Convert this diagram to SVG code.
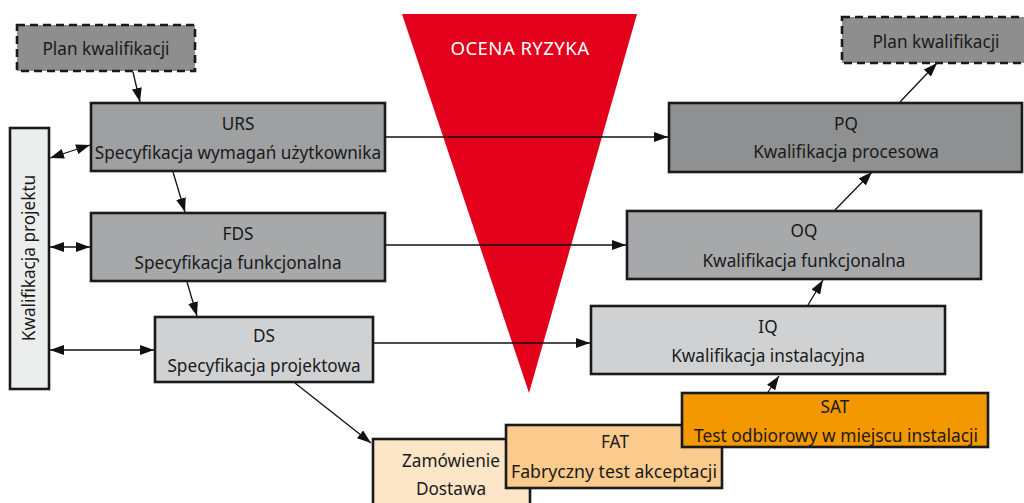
<svg xmlns="http://www.w3.org/2000/svg" width="1024" height="503" viewBox="0 0 1024 503">
<style>
.box{stroke:#1a1a1a;stroke-width:2.6}
.dash{stroke:#1a1a1a;stroke-width:2.6;stroke-dasharray:8 5}
.t{font-family:"Noto Sans","Open Sans",sans-serif;font-size:17.2px;fill:#1a1a1a;text-anchor:middle}
.c{stroke:#111;stroke-width:1.3;fill:none}
</style>
<defs>
<marker id="ah" viewBox="0 0 14 10" refX="14" refY="5" markerWidth="14" markerHeight="10" markerUnits="userSpaceOnUse" orient="auto-start-reverse">
<path d="M0,0 L14,5 L0,10 Z" fill="#111"/>
</marker>
</defs>
<rect width="1024" height="503" fill="#fff"/>
<g id="risk">
<polygon points="402,14 637,14 529,393" fill="#e2001a"/>
<text x="520" y="55" class="t" style="fill:#fff;font-size:18.6px;letter-spacing:0.4px">OCENA RYZYKA</text>
</g>
<g id="connectors">
<line class="c" x1="133" y1="72" x2="140" y2="102" marker-end="url(#ah)"/>
<line class="c" x1="50" y1="158" x2="90" y2="145" marker-start="url(#ah)" marker-end="url(#ah)"/>
<line class="c" x1="50" y1="247" x2="90" y2="247" marker-start="url(#ah)" marker-end="url(#ah)"/>
<line class="c" x1="50" y1="350" x2="154" y2="350" marker-start="url(#ah)" marker-end="url(#ah)"/>
<line class="c" x1="173" y1="172" x2="185" y2="212" marker-end="url(#ah)"/>
<line class="c" x1="187" y1="282" x2="197" y2="316" marker-end="url(#ah)"/>
<line class="c" x1="385" y1="137" x2="668" y2="137" marker-end="url(#ah)"/>
<line class="c" x1="385" y1="245" x2="626" y2="245" marker-end="url(#ah)"/>
<line class="c" x1="373" y1="343" x2="590" y2="343" marker-end="url(#ah)"/>
<line class="c" x1="295" y1="383" x2="371" y2="443" marker-end="url(#ah)"/>
<line class="c" x1="768" y1="392" x2="779" y2="376" marker-end="url(#ah)"/>
<line class="c" x1="808" y1="305" x2="823" y2="280" marker-end="url(#ah)"/>
<line class="c" x1="835" y1="210" x2="872" y2="172" marker-end="url(#ah)"/>
<line class="c" x1="900" y1="102" x2="937" y2="63" marker-end="url(#ah)"/>
</g>
<g id="plan-left">
<rect x="17" y="25" width="178" height="46" fill="#8e8e8f" class="dash"/>
<text x="106" y="55" class="t">Plan kwalifikacji</text>
</g>
<g id="plan-right">
<rect x="842" y="17" width="190" height="46" fill="#8e8e8f" class="dash"/>
<text x="936" y="48" class="t">Plan kwalifikacji</text>
</g>
<g id="kp">
<rect x="10" y="128" width="39" height="261" fill="#eceded" class="box"/>
<text x="0" y="0" class="t" transform="translate(35,258) rotate(-90)">Kwalifikacja projektu</text>
</g>
<g id="urs">
<rect x="91" y="103" width="294" height="68" fill="#9fa0a2" class="box"/>
<text x="238" y="130" class="t">URS</text>
<text x="238" y="159" class="t">Specyfikacja wymagań użytkownika</text>
</g>
<g id="fds">
<rect x="91" y="213" width="294" height="68" fill="#a7a8aa" class="box"/>
<text x="238" y="240" class="t">FDS</text>
<text x="238" y="269" class="t">Specyfikacja funkcjonalna</text>
</g>
<g id="ds">
<rect x="155" y="317" width="218" height="65" fill="#d0d1d3" class="box"/>
<text x="264" y="342" class="t">DS</text>
<text x="264" y="372" class="t">Specyfikacja projektowa</text>
</g>
<g id="pq">
<rect x="669" y="103" width="353" height="69" fill="#8f9091" class="box"/>
<text x="846" y="130" class="t">PQ</text>
<text x="846" y="158" class="t">Kwalifikacja procesowa</text>
</g>
<g id="oq">
<rect x="627" y="211" width="354" height="68" fill="#a7a8aa" class="box"/>
<text x="804" y="237" class="t">OQ</text>
<text x="804" y="267" class="t">Kwalifikacja funkcjonalna</text>
</g>
<g id="iq">
<rect x="591" y="306" width="354" height="68" fill="#d0d1d3" class="box"/>
<text x="768" y="333" class="t">IQ</text>
<text x="768" y="362" class="t">Kwalifikacja instalacyjna</text>
</g>
<g id="zam">
<rect x="373" y="439" width="157" height="80" fill="#fde5c7" class="box"/>
<text x="451" y="467" class="t">Zamówienie</text>
<text x="451" y="495" class="t">Dostawa</text>
</g>
<g id="fat">
<rect x="506" y="425" width="216" height="63" fill="#fbcb8d" class="box"/>
<text x="615" y="448" class="t">FAT</text>
<text x="614" y="478" class="t" textLength="206" lengthAdjust="spacingAndGlyphs">Fabryczny test akceptacji</text>
</g>
<g id="sat">
<rect x="682" y="393" width="306" height="54" fill="#f39800" class="box"/>
<text x="835" y="413" class="t">SAT</text>
<text x="836" y="442" class="t" textLength="284" lengthAdjust="spacingAndGlyphs">Test odbiorowy w miejscu instalacji</text>
</g>
</svg>
